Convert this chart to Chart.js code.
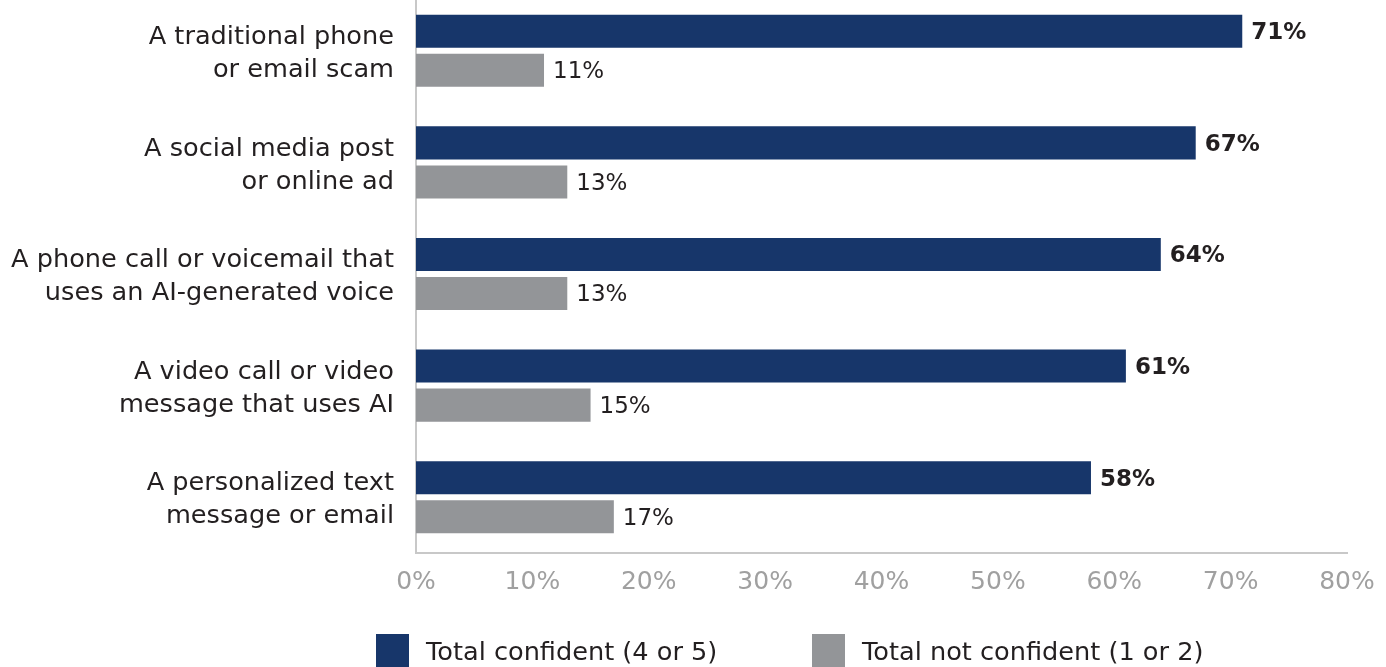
<!DOCTYPE html>
<html>
<head>
<meta charset="utf-8">
<script src="https://cdn.jsdelivr.net/npm/chart.js@4"></script>
<style>
    html, body { margin: 0; padding: 0; background: #fff; }
    #wrap { position: relative; width: 1386px; height: 667px; overflow: hidden; }
    #chartBox { position: absolute; left: 0; top: -5px; width: 1386px; height: 672px; }
    #legend {
        position: absolute; left: 376px; top: 634px;
        display: flex; align-items: center;
        font: 25.6px "DejaVu Sans", sans-serif; color: #231f20;
    }
    #legend .item { display: flex; align-items: center; }
    #legend .item:first-child { width: 436px; }
    #legend .box { width: 33px; height: 33px; margin-right: 17px; }
</style>
</head>
<body>
<div id="wrap">
    <div id="chartBox"><canvas id="scamChart"></canvas></div>
    <div id="legend"></div>
</div>
<script>
// ========== 数据 ==========
const categories = [
    ['A traditional phone', 'or email scam'],
    ['A social media post', 'or online ad'],
    ['A phone call or voicemail that', 'uses an AI-generated voice'],
    ['A video call or video', 'message that uses AI'],
    ['A personalized text', 'message or email']
];
const confidentValues = [71, 67, 64, 61, 58];
const notConfidentValues = [11, 13, 13, 15, 17];
const seriesNames = ['Total confident (4 or 5)', 'Total not confident (1 or 2)'];
const xTicks = [0, 10, 20, 30, 40, 50, 60, 70, 80];

const FONT = '"DejaVu Sans", sans-serif';
const BLUE = '#17366a';
const GRAY = '#939598';
const TEXT = '#231f20';

// 柱子末端数值标签
const valueLabels = {
    id: 'valueLabels',
    afterDatasetsDraw(chart) {
        const ctx = chart.ctx;
        ctx.save();
        ctx.textAlign = 'left';
        ctx.textBaseline = 'middle';
        ctx.fillStyle = TEXT;
        chart.data.datasets.forEach((ds, di) => {
            const meta = chart.getDatasetMeta(di);
            ctx.font = (di === 0 ? 'bold ' : '') + '23px ' + FONT;
            meta.data.forEach((bar, i) => {
                ctx.fillText(ds.data[i] + '%', bar.x + 9, bar.y + 2);
            });
        });
        ctx.restore();
    }
};

const ctx = document.getElementById('scamChart').getContext('2d');
const chart = new Chart(ctx, {
    type: 'bar',
    data: {
        labels: categories,
        datasets: [
            {
                label: seriesNames[0],
                data: confidentValues,
                backgroundColor: BLUE,
                categoryPercentage: 0.7,
                barPercentage: 0.846
            },
            {
                label: seriesNames[1],
                data: notConfidentValues,
                backgroundColor: GRAY,
                categoryPercentage: 0.7,
                barPercentage: 0.846
            }
        ]
    },
    options: {
        indexAxis: 'y',
        responsive: true,
        maintainAspectRatio: false,
        animation: false,
        layout: { padding: { top: 0, right: 39, left: 0, bottom: 64 } },
        scales: {
            x: {
                min: 0,
                max: 80,
                afterBuildTicks: (axis) => { axis.ticks = xTicks.map(v => ({ value: v })); },
                grid: { display: false },
                border: { display: true, color: '#c8c8c8', width: 2 },
                ticks: {
                    color: '#a0a0a0',
                    font: { family: FONT, size: 25 },
                    padding: 6,
                    callback: (v) => v + '%'
                },
                afterFit: (axis) => { axis.height = 50; }
            },
            y: {
                grid: { display: false },
                border: { display: true, color: '#c8c8c8', width: 2 },
                ticks: {
                    color: TEXT,
                    font: { family: FONT, size: 25.6, lineHeight: 1.29 },
                    padding: 14,
                    labelOffset: 3
                },
                afterFit: (axis) => {
                    axis.width = 416;
                    axis.paddingTop = 0;
                    axis.paddingBottom = 0;
                }
            }
        },
        plugins: {
            legend: { display: false },
            tooltip: { enabled: false }
        }
    },
    plugins: [valueLabels]
});

// ========== 图例 ==========
document.getElementById('legend').innerHTML = chart.data.datasets.map(ds => `
    <div class="item">
        <span class="box" style="background:${ds.backgroundColor}"></span>
        <span>${ds.label}</span>
    </div>
`).join('');
</script>
</body>
</html>
